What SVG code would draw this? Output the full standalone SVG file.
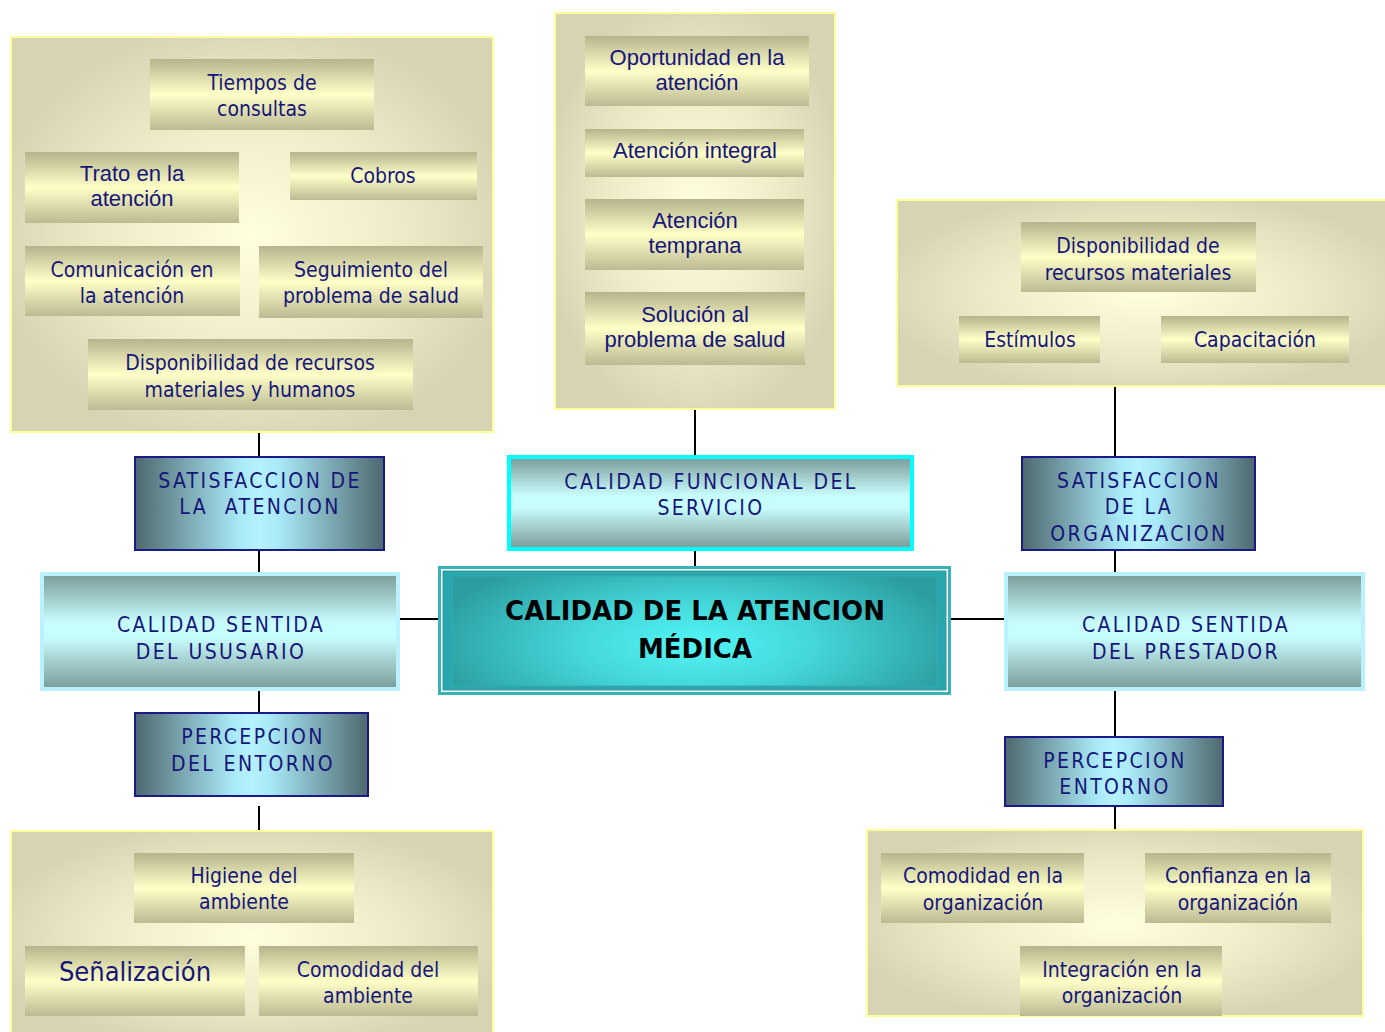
<svg xmlns="http://www.w3.org/2000/svg" width="1385" height="1032" viewBox="0 0 1385 1032">
<defs>
<radialGradient id="gPanel" cx="50%" cy="50%" r="55%">
<stop offset="0" stop-color="#fffede"/>
<stop offset="0.55" stop-color="#eeecc8"/>
<stop offset="1" stop-color="#d6d4b3"/>
</radialGradient>
<linearGradient id="gItem" x1="0" y1="0" x2="0" y2="1">
<stop offset="0" stop-color="#b6b48c"/>
<stop offset="0.5" stop-color="#ffffc8"/>
<stop offset="1" stop-color="#bcba92"/>
</linearGradient>
<linearGradient id="gDark" x1="0" y1="0" x2="1" y2="0">
<stop offset="0" stop-color="#4e686e"/>
<stop offset="0.42" stop-color="#a9e9f7"/>
<stop offset="0.5" stop-color="#b5f1ff"/>
<stop offset="0.58" stop-color="#a9e9f7"/>
<stop offset="1" stop-color="#4e686e"/>
</linearGradient>
<linearGradient id="gCyan" x1="0" y1="0" x2="0" y2="1">
<stop offset="0" stop-color="#7a9a98"/>
<stop offset="0.42" stop-color="#c8fdfd"/>
<stop offset="0.55" stop-color="#c8fdfd"/>
<stop offset="1" stop-color="#7a9a98"/>
</linearGradient>
<radialGradient id="gCenter" cx="50%" cy="62%" r="55%" gradientTransform="translate(0.5 0.62) scale(1 1.6) translate(-0.5 -0.62)">
<stop offset="0" stop-color="#52f6f6"/>
<stop offset="0.45" stop-color="#44d6d8"/>
<stop offset="1" stop-color="#2c9ea2"/>
</radialGradient>
<style>
.panel{fill:url(#gPanel);stroke:#ffff99;stroke-width:2}
.item{fill:url(#gItem)}
.dark{fill:url(#gDark);stroke:#1a1a8a;stroke-width:2}
.cyan{fill:url(#gCyan);stroke:#b9f1ff;stroke-width:4}
.cyan2{fill:url(#gCyan);stroke:#00ffff;stroke-width:4}
.t{font-family:"DejaVu Sans Condensed","DejaVu Sans",sans-serif;font-stretch:condensed;font-size:21px;fill:#16167a;text-anchor:middle}
.a{font-family:"Liberation Sans",Arial,sans-serif;font-size:22px;fill:#16167a;text-anchor:middle}
.u{font-family:"DejaVu Sans Condensed","DejaVu Sans",sans-serif;font-stretch:condensed;font-size:21px;letter-spacing:2.4px;fill:#16167a;text-anchor:middle}
.title{font-family:"DejaVu Sans",sans-serif;font-weight:bold;font-size:26px;fill:#000;text-anchor:middle}
.ln{stroke:#000;stroke-width:2;fill:none}
</style>
</defs>
<rect width="1385" height="1032" fill="#fff"/>

<g id="connectors">
<line class="ln" x1="259" y1="432" x2="259" y2="456"/>
<line class="ln" x1="259" y1="550" x2="259" y2="572"/>
<line class="ln" x1="259" y1="691" x2="259" y2="713"/>
<line class="ln" x1="259" y1="806" x2="259" y2="830"/>
<line class="ln" x1="695" y1="410" x2="695" y2="456"/>
<line class="ln" x1="695" y1="551" x2="695" y2="568"/>
<line class="ln" x1="1115" y1="386" x2="1115" y2="456"/>
<line class="ln" x1="1115" y1="550" x2="1115" y2="572"/>
<line class="ln" x1="1115" y1="691" x2="1115" y2="736"/>
<line class="ln" x1="1115" y1="807" x2="1115" y2="830"/>
<line class="ln" x1="400" y1="619" x2="446" y2="619"/>
<line class="ln" x1="943" y1="619" x2="1006" y2="619"/>
</g>

<g id="panel-usuario-top">
<rect class="panel" x="11" y="37" width="482" height="395"/>
<rect class="item" x="150" y="59" width="224" height="71"/>
<text class="t" x="262" y="90">Tiempos de</text>
<text class="t" x="262" y="116">consultas</text>
<rect class="item" x="25" y="152" width="214" height="71"/>
<text class="a" x="132" y="181">Trato en la</text>
<text class="a" x="132" y="206">atención</text>
<rect class="item" x="290" y="152" width="187" height="48"/>
<text class="t" x="383" y="183">Cobros</text>
<rect class="item" x="25" y="246" width="215" height="70"/>
<text class="t" x="132" y="277">Comunicación en</text>
<text class="t" x="132" y="303">la atención</text>
<rect class="item" x="259" y="246" width="224" height="72"/>
<text class="t" x="371" y="277">Seguimiento del</text>
<text class="t" x="371" y="303">problema de salud</text>
<rect class="item" x="88" y="339" width="325" height="71"/>
<text class="t" x="250" y="370">Disponibilidad de recursos</text>
<text class="t" x="250" y="397">materiales y humanos</text>
</g>

<g id="panel-funcional-top">
<rect class="panel" x="555" y="13" width="280" height="396"/>
<rect class="item" x="585" y="36" width="224" height="70"/>
<text class="a" x="697" y="65">Oportunidad en la</text>
<text class="a" x="697" y="90">atención</text>
<rect class="item" x="585" y="129" width="219" height="48"/>
<text class="a" x="695" y="158">Atención integral</text>
<rect class="item" x="585" y="199" width="219" height="71"/>
<text class="a" x="695" y="228">Atención</text>
<text class="a" x="695" y="253">temprana</text>
<rect class="item" x="585" y="292" width="220" height="73"/>
<text class="a" x="695" y="322">Solución al</text>
<text class="a" x="695" y="347">problema de salud</text>
</g>

<g id="panel-organizacion-top">
<rect class="panel" x="897" y="200" width="496" height="186"/>
<rect class="item" x="1021" y="222" width="235" height="70"/>
<text class="t" x="1138" y="253">Disponibilidad de</text>
<text class="t" x="1138" y="280">recursos materiales</text>
<rect class="item" x="959" y="316" width="141" height="47"/>
<text class="t" x="1030" y="347">Estímulos</text>
<rect class="item" x="1161" y="316" width="188" height="47"/>
<text class="t" x="1255" y="347">Capacitación</text>
</g>

<g id="satisfaccion-atencion">
<rect class="dark" x="135" y="457" width="249" height="93"/>
<text class="u" x="260" y="488">SATISFACCION DE</text>
<text class="u" x="260" y="514" xml:space="preserve">LA  ATENCION</text>
</g>

<g id="calidad-funcional">
<rect class="cyan2" x="509" y="457" width="403" height="92"/>
<text class="u" x="711" y="489">CALIDAD FUNCIONAL DEL</text>
<text class="u" x="711" y="515">SERVICIO</text>
</g>

<g id="satisfaccion-organizacion">
<rect class="dark" x="1022" y="457" width="233" height="93"/>
<text class="u" x="1139" y="488">SATISFACCION</text>
<text class="u" x="1139" y="514">DE LA</text>
<text class="u" x="1139" y="541">ORGANIZACION</text>
</g>

<g id="calidad-usuario">
<rect class="cyan" x="42" y="574" width="356" height="115"/>
<text class="u" x="221" y="632">CALIDAD SENTIDA</text>
<text class="u" x="221" y="659">DEL USUSARIO</text>
</g>

<g id="calidad-atencion-medica">
<rect x="439.5" y="567.5" width="510" height="126" fill="#fff" stroke="#3ab2ba" stroke-width="3"/>
<rect x="443" y="571" width="503" height="119" fill="#2aa6ae" stroke="#2a9ca4" stroke-width="1"/>
<rect x="452" y="576" width="485" height="110" fill="url(#gCenter)" stroke="#34aab0" stroke-width="1"/>
<text class="title" x="695" y="620">CALIDAD DE LA ATENCION</text>
<text class="title" x="695" y="658">MÉDICA</text>
</g>

<g id="calidad-prestador">
<rect class="cyan" x="1006" y="574" width="357" height="115"/>
<text class="u" x="1186" y="632">CALIDAD SENTIDA</text>
<text class="u" x="1186" y="659">DEL PRESTADOR</text>
</g>

<g id="percepcion-entorno-usuario">
<rect class="dark" x="135" y="713" width="233" height="83"/>
<text class="u" x="253" y="744">PERCEPCION</text>
<text class="u" x="253" y="771">DEL ENTORNO</text>
</g>

<g id="percepcion-entorno-prestador">
<rect class="dark" x="1005" y="737" width="218" height="69"/>
<text class="u" x="1115" y="768">PERCEPCION</text>
<text class="u" x="1115" y="794">ENTORNO</text>
</g>

<g id="panel-usuario-bottom">
<rect class="panel" x="11" y="831" width="482" height="210"/>
<rect class="item" x="134" y="853" width="220" height="70"/>
<text class="t" x="244" y="883">Higiene del</text>
<text class="t" x="244" y="909">ambiente</text>
<rect class="item" x="25" y="946" width="220" height="70"/>
<text class="t" x="135" y="981" style="font-size:27px">Señalización</text>
<rect class="item" x="259" y="946" width="219" height="70"/>
<text class="t" x="368" y="977">Comodidad del</text>
<text class="t" x="368" y="1003">ambiente</text>
</g>

<g id="panel-prestador-bottom">
<rect class="panel" x="867" y="830" width="496" height="186"/>
<rect class="item" x="881" y="853" width="203" height="70"/>
<text class="t" x="983" y="883">Comodidad en la</text>
<text class="t" x="983" y="910">organización</text>
<rect class="item" x="1145" y="853" width="186" height="70"/>
<text class="t" x="1238" y="883">Confianza en la</text>
<text class="t" x="1238" y="910">organización</text>
<rect class="item" x="1020" y="946" width="202" height="70"/>
<text class="t" x="1122" y="977">Integración en la</text>
<text class="t" x="1122" y="1003">organización</text>
</g>
</svg>
